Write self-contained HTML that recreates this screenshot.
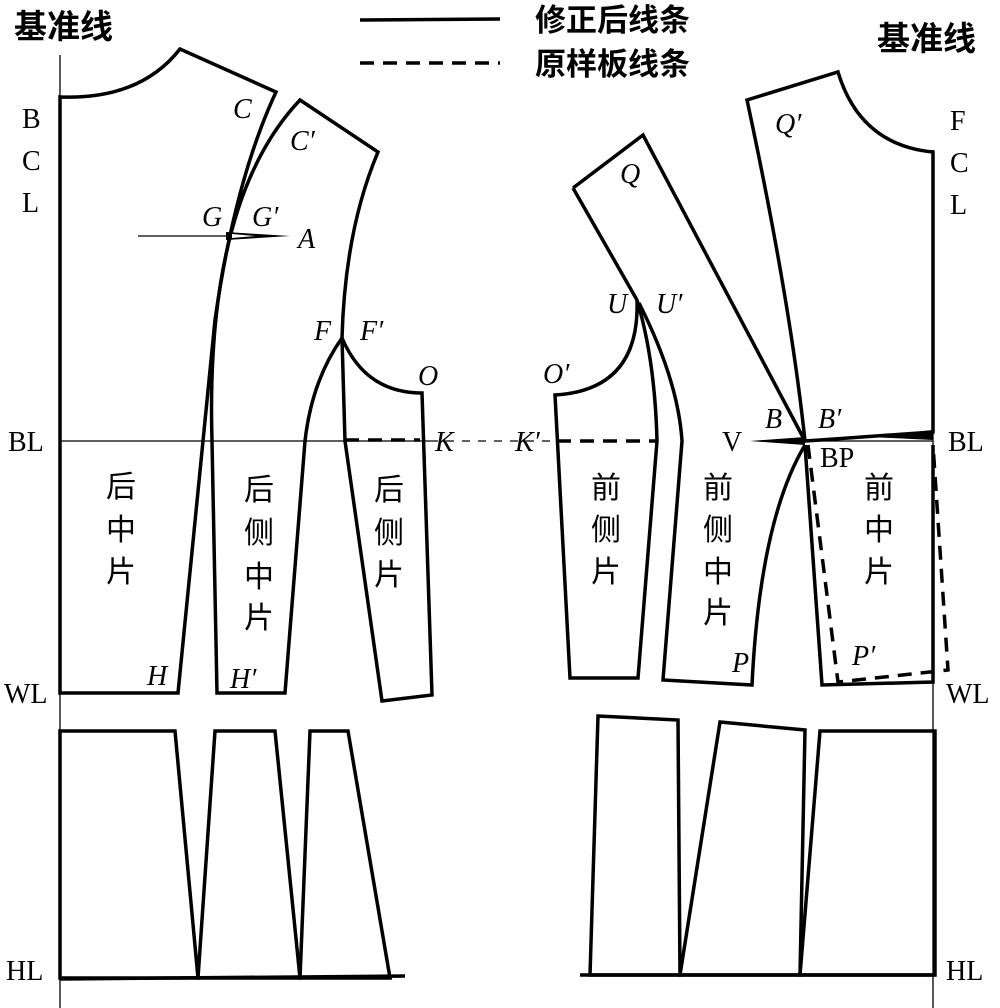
<!DOCTYPE html>
<html><head><meta charset="utf-8"><style>
html,body{margin:0;padding:0;background:#fff}
svg{display:block}
.s{fill:none;stroke:#000;stroke-width:3.5;stroke-linejoin:miter}
.t{fill:none;stroke:#000;stroke-width:1.3}
.d{fill:none;stroke:#000;stroke-width:3.5;stroke-dasharray:14,9}
.lt{font-family:"Liberation Serif",serif;font-size:28px}
.it{font-family:"Liberation Serif",serif;font-size:28px;font-style:italic}
.cn{font-family:"Liberation Sans","Noto Sans CJK SC",sans-serif;font-size:30px}
.cb{font-family:"Liberation Sans","Noto Sans CJK SC",sans-serif;font-size:31px;font-weight:bold}
.cb2{font-family:"Liberation Sans","Noto Sans CJK SC",sans-serif;font-size:33px;font-weight:bold}
</style></head><body>
<svg width="1000" height="1008" viewBox="0 0 1000 1008" xmlns="http://www.w3.org/2000/svg">
<!-- legend -->
<line x1="360" y1="20" x2="500" y2="19" class="s"/>
<line x1="360" y1="63" x2="500" y2="63" class="d"/>
<text x="535" y="31" class="cb">修正后线条</text>
<text x="535" y="75" class="cb">原样板线条</text>
<text x="14" y="38" class="cb2">基准线</text>
<text x="877" y="50" class="cb2">基准线</text>

<!-- baselines -->
<line x1="60" y1="55" x2="60" y2="1008" class="t"/>
<line x1="933" y1="150" x2="933" y2="1008" class="t"/>
<line x1="60" y1="441" x2="430" y2="441" class="t"/>
<line x1="430" y1="441" x2="560" y2="441" class="t" stroke-dasharray="8,8"/>
<line x1="805" y1="441" x2="933" y2="441" class="t"/>
<line x1="138" y1="236" x2="230" y2="236" class="t"/>

<!-- back center piece -->
<path class="s" d="M60,693 L60,97 Q140,100 180,49 L276,92 Q235,180 215,320 L178,693 Z"/>
<!-- back side middle piece -->
<path class="s" d="M300,100 L378,152 Q345,230 342,338 Q312,380 305,441 L285,693 L217,693 L212,441 Q205,200 300,100 Z"/>
<!-- dart G-A -->
<path d="M226,232 L290,236 L226,240 Z" fill="#000"/>
<path d="M232,234 L255,236 L232,238 Z" fill="#fff"/>
<!-- back side piece -->
<path class="s" d="M342,338 Q365,392 420,393 L422,393 L432,695 L382,701 L345,441 Z"/>
<line x1="345" y1="440" x2="420" y2="440" class="d"/>

<!-- front side piece -->
<path class="s" d="M637,300 Q640,390 555,395 L570,678 L638,678 L657,441 Q655,360 637,300 Z"/>
<line x1="557" y1="441" x2="657" y2="441" class="d"/>
<!-- Q piece -->
<path class="s" d="M573,188 L643,135 L805,441 L805,441 M573,188 L637,300"/>
<!-- front side middle piece -->
<path class="s" d="M639,303 Q678,380 682,441 L663,680 L752,685 Q760,520 805,445"/>
<!-- front center piece -->
<path class="s" d="M747,100 L838,72 Q860,145 933,152 L933,432 L820,440 L805,441 Q790,300 747,100 Z"/>
<path d="M750,441 L805,437 L805,445 Z" fill="#000"/>
<path d="M870,437 L933,430 L933,440 Z" fill="#000"/>
<path class="s" d="M805,445 L822,685 L933,682 L933,445"/>
<path class="d" d="M808,445 L838,682 L948,670 L933,445"/>

<!-- bottom left -->
<path class="s" d="M60,978 L60,731 L175,731 L198,978 Z"/>
<path class="s" d="M215,731 L275,731 L300,978 L198,978 Z"/>
<path class="s" d="M310,731 L348,731 L390,978 L300,978 Z"/>
<line x1="60" y1="979" x2="405" y2="976" class="s"/>
<!-- bottom right -->
<path class="s" d="M598,716 L678,720 L680,975 L590,975 Z"/>
<path class="s" d="M720,722 L805,730 L800,975 L680,975 Z"/>
<path class="s" d="M820,731 L935,731 L935,975 L800,975 Z"/>
<line x1="580" y1="975" x2="935" y2="975" class="s"/>

<!-- side labels -->
<text x="22" y="128" class="lt">B</text>
<text x="22" y="170" class="lt">C</text>
<text x="22" y="212" class="lt">L</text>
<text x="950" y="130" class="lt">F</text>
<text x="950" y="172" class="lt">C</text>
<text x="950" y="214" class="lt">L</text>
<text x="8" y="451" class="lt">BL</text>
<text x="4" y="703" class="lt">WL</text>
<text x="6" y="980" class="lt">HL</text>
<text x="948" y="451" class="lt">BL</text>
<text x="946" y="703" class="lt">WL</text>
<text x="946" y="980" class="lt">HL</text>
<text x="722" y="451" class="lt">V</text>
<text x="820" y="467" class="lt">BP</text>

<!-- point labels -->
<text x="233" y="118" class="it">C</text>
<text x="290" y="150" class="it">C′</text>
<text x="202" y="226" class="it">G</text>
<text x="252" y="226" class="it">G′</text>
<text x="298" y="248" class="it">A</text>
<text x="314" y="340" class="it">F</text>
<text x="360" y="340" class="it">F′</text>
<text x="418" y="385" class="it">O</text>
<text x="435" y="451" class="it">K</text>
<text x="515" y="451" class="it">K′</text>
<text x="147" y="685" class="it">H</text>
<text x="230" y="688" class="it">H′</text>
<text x="620" y="183" class="it">Q</text>
<text x="775" y="133" class="it">Q′</text>
<text x="607" y="313" class="it">U</text>
<text x="656" y="313" class="it">U′</text>
<text x="543" y="383" class="it">O′</text>
<text x="765" y="428" class="it">B</text>
<text x="818" y="428" class="it">B′</text>
<text x="732" y="672" class="it">P</text>
<text x="852" y="665" class="it">P′</text>

<!-- piece names -->
<g class="cn" text-anchor="middle">
<text x="121" y="497">后</text><text x="121" y="540">中</text><text x="121" y="582">片</text>
<text x="259" y="500">后</text><text x="259" y="543">侧</text><text x="259" y="587">中</text><text x="259" y="628">片</text>
<text x="389" y="500">后</text><text x="389" y="543">侧</text><text x="389" y="585">片</text>
<text x="606" y="498">前</text><text x="606" y="540">侧</text><text x="606" y="582">片</text>
<text x="718" y="498">前</text><text x="718" y="540">侧</text><text x="718" y="582">中</text><text x="718" y="623">片</text>
<text x="879" y="498">前</text><text x="879" y="540">中</text><text x="879" y="582">片</text>
</g>
</svg>
</body></html>
